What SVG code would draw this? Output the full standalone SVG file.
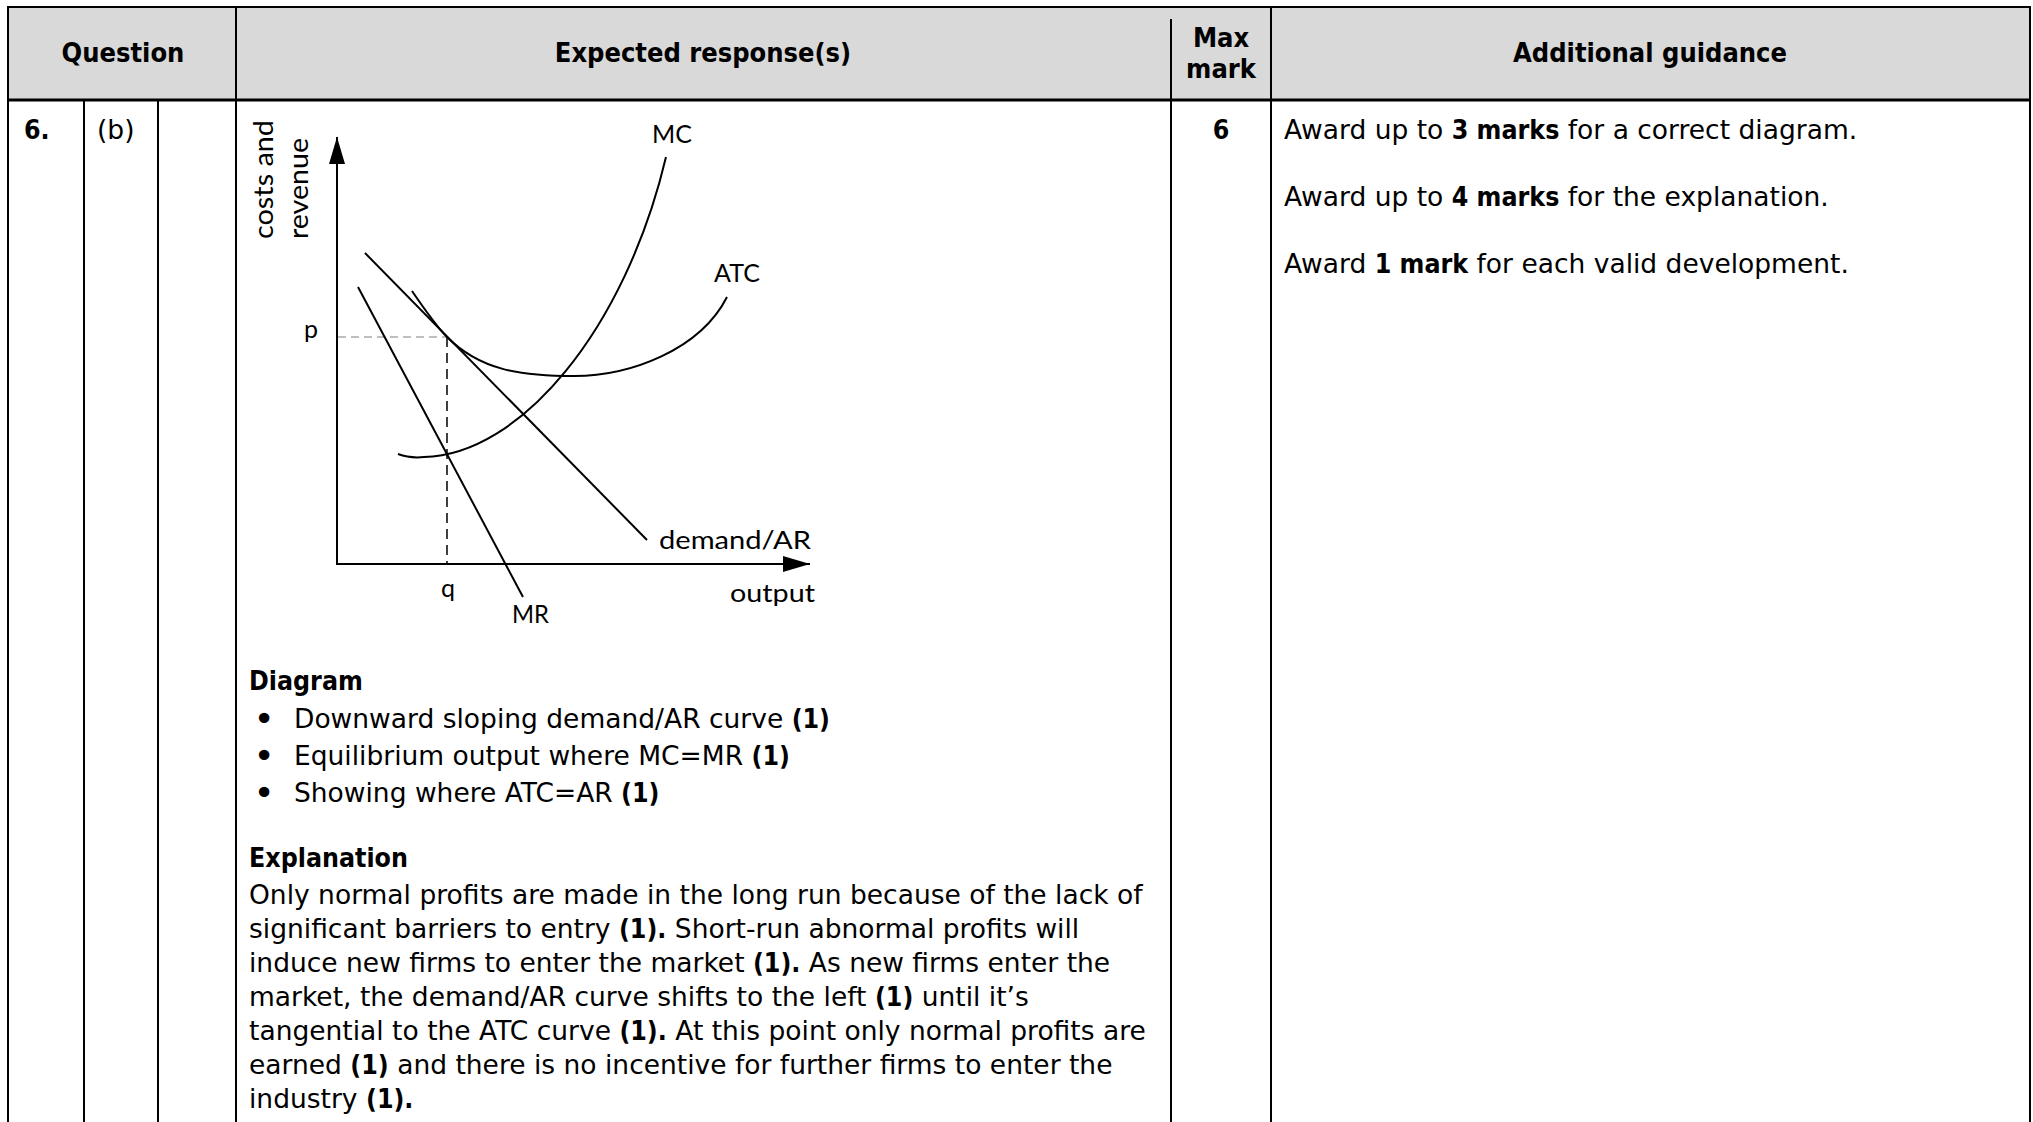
<svg xmlns="http://www.w3.org/2000/svg" width="2033" height="1122" viewBox="0 0 2033 1122">
<style>
.t{font-family:"DejaVu Sans","Liberation Sans",sans-serif;font-size:26.5px;fill:#000}
.b{font-family:"DejaVu Sans Condensed","DejaVu Sans",sans-serif;font-weight:bold}
.h{font-family:"DejaVu Sans Condensed","DejaVu Sans",sans-serif;font-weight:bold;font-size:27px;fill:#000}
.bl{font-family:"DejaVu Sans",sans-serif;font-size:36px;fill:#000}
.d{font-family:Lato,"Open Sans",sans-serif;font-size:25px;fill:#000}
.ln{stroke:#000;stroke-width:2;fill:none}
.cv{stroke:#000;stroke-width:2;fill:none}
</style>
<defs>
<marker id="ah" viewBox="0 0 27 16" refX="27" refY="8" markerWidth="27" markerHeight="16" markerUnits="userSpaceOnUse" orient="auto">
<path d="M0,0 L27,8 L0,16 Z" fill="#000"/>
</marker>
</defs>
<rect width="2033" height="1122" fill="#fff"/>
<g id="table">
<rect x="8" y="7" width="2022" height="93" fill="#d9d9d9"/>
<line class="ln" x1="7" y1="7" x2="2031" y2="7"/>
<line class="ln" x1="8" y1="6" x2="8" y2="1122"/>
<line class="ln" x1="2030" y1="6" x2="2030" y2="1122"/>
<line x1="7" y1="100" x2="2031" y2="100" stroke="#000" stroke-width="3"/>
<line class="ln" x1="84" y1="100" x2="84" y2="1122"/>
<line class="ln" x1="158" y1="100" x2="158" y2="1122"/>
<line class="ln" x1="236" y1="6" x2="236" y2="1122"/>
<line class="ln" x1="1171" y1="19" x2="1171" y2="1122"/>
<line class="ln" x1="1271" y1="6" x2="1271" y2="1122"/>
</g>
<g id="header">
<text class="h" x="123" y="62" text-anchor="middle">Question</text>
<text class="h" x="703" y="62" text-anchor="middle">Expected response(s)</text>
<text class="h" x="1221" y="47" text-anchor="middle">Max</text>
<text class="h" x="1221" y="78" text-anchor="middle">mark</text>
<text class="h" x="1650" y="62" text-anchor="middle">Additional guidance</text>
</g>
<g id="row">
<text class="t b" x="24" y="139">6.</text>
<text class="t" x="97" y="139">(b)</text>
<text class="t b" x="1221" y="139" text-anchor="middle">6</text>
<text class="t" x="1284" y="139">Award up to <tspan class="b">3 marks</tspan> for a correct diagram.</text>
<text class="t" x="1284" y="206">Award up to <tspan class="b">4 marks</tspan> for the explanation.</text>
<text class="t" x="1284" y="273">Award <tspan class="b">1 mark</tspan> for each valid development.</text>
</g>
<g id="chart">
<g id="connectors">
<line class="ln" x1="337" y1="565" x2="337" y2="137" marker-end="url(#ah)"/>
<line class="ln" x1="336" y1="564" x2="810" y2="564" marker-end="url(#ah)"/>
<line x1="338" y1="337" x2="447" y2="337" stroke="#aaa" stroke-width="1.5" stroke-dasharray="8,5"/>
<line x1="447" y1="337" x2="447" y2="564" stroke="#000" stroke-width="1.5" stroke-dasharray="10,6"/>
<line class="cv" x1="358" y1="287" x2="523" y2="597"/>
<line class="cv" x1="365" y1="253" x2="647" y2="540"/>
<path class="cv" d="M412,291 C425,310 436,326 447,337 C480,370 520,376 574,376 C630,376 700,350 727,297"/>
<path class="cv" d="M398,454 C406,457 415,458 424,457 C520,455 625,330 666,157"/>
</g>
<g id="labels">
<text class="d" x="672" y="143" text-anchor="middle">MC</text>
<text class="d" x="737" y="282" text-anchor="middle">ATC</text>
<text class="d" x="311" y="338" text-anchor="middle">p</text>
<text class="d" x="448" y="597" text-anchor="middle">q</text>
<text class="d" x="512" y="623" textLength="37" lengthAdjust="spacingAndGlyphs">MR</text>
<text class="d" x="659" y="549" textLength="152" lengthAdjust="spacingAndGlyphs">demand/AR</text>
<text class="d" x="730" y="602" textLength="85" lengthAdjust="spacingAndGlyphs">output</text>
<text class="d" style="font-size:26px" transform="translate(273,239) rotate(-90)" textLength="119" lengthAdjust="spacingAndGlyphs">costs and</text>
<text class="d" style="font-size:26px" transform="translate(308,239) rotate(-90)" textLength="101" lengthAdjust="spacingAndGlyphs">revenue</text>
</g>
</g>
<g id="body">
<text class="t b" x="249" y="690">Diagram</text>
<text class="bl" x="264" y="731" text-anchor="middle">•</text>
<text class="t" x="294" y="728">Downward sloping demand/AR curve <tspan class="b">(1)</tspan></text>
<text class="bl" x="264" y="768" text-anchor="middle">•</text>
<text class="t" x="294" y="765">Equilibrium output where MC=MR <tspan class="b">(1)</tspan></text>
<text class="bl" x="264" y="805" text-anchor="middle">•</text>
<text class="t" x="294" y="802">Showing where ATC=AR <tspan class="b">(1)</tspan></text>
<text class="t b" x="249" y="867">Explanation</text>
<text class="t" x="249" y="904">Only normal profits are made in the long run because of the lack of</text>
<text class="t" x="249" y="938">significant barriers to entry <tspan class="b">(1).</tspan> Short-run abnormal profits will</text>
<text class="t" x="249" y="972">induce new firms to enter the market <tspan class="b">(1).</tspan> As new firms enter the</text>
<text class="t" x="249" y="1006">market, the demand/AR curve shifts to the left <tspan class="b">(1)</tspan> until it’s</text>
<text class="t" x="249" y="1040">tangential to the ATC curve <tspan class="b">(1).</tspan> At this point only normal profits are</text>
<text class="t" x="249" y="1074">earned <tspan class="b">(1)</tspan> and there is no incentive for further firms to enter the</text>
<text class="t" x="249" y="1108">industry <tspan class="b">(1).</tspan></text>
</g>
</svg>
